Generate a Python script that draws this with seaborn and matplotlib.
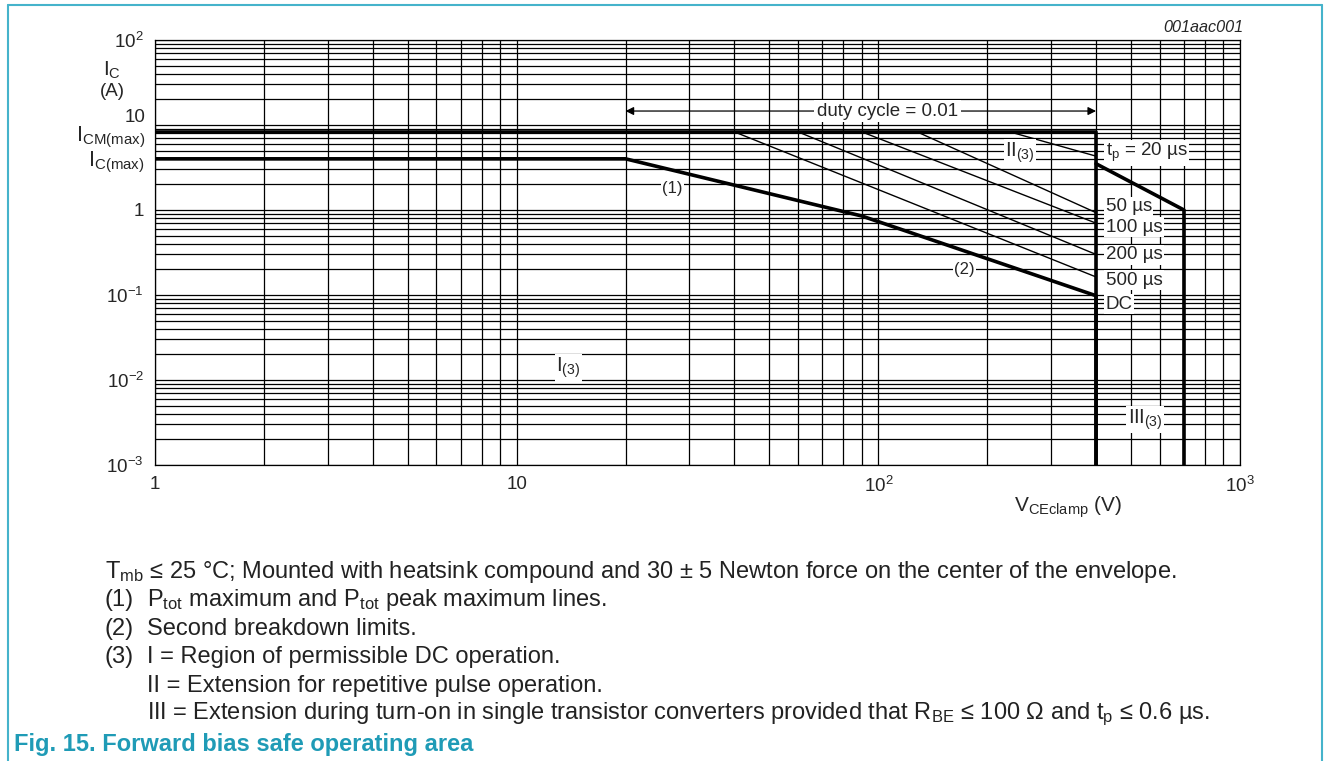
import matplotlib
matplotlib.use('Agg')
import matplotlib.pyplot as plt
import seaborn as sns
from matplotlib.ticker import LogLocator, NullFormatter, FixedLocator, FixedFormatter
from matplotlib.lines import Line2D

# data
dc_v = [1, 20, 90, 400, 400]
dc_i = [4, 4, 0.85, 0.098, 0.001]
icm_v = [1, 400]
icm_i = [8.3, 8.3]
ext_v = [400, 700, 700]
ext_i = [3.5, 1.0, 0.001]
pulse_labels = ['20 µs', '50 µs', '100 µs', '200 µs', '500 µs']
pulse_start_v = [231, 128, 90, 60, 40]
pulse_end_i = [4.3, 0.93, 0.70, 0.30, 0.163]
v_clamp = 400
x_ticks = [1, 10, 100, 1000]
x_ticklabels = ['1', '10', '$10^{2}$', '$10^{3}$']
y_ticks = [1e-3, 1e-2, 1e-1, 1, 10, 100]
y_ticklabels = ['$10^{-3}$', '$10^{-2}$', '$10^{-1}$', '1', '', '$10^{2}$']

sns.set_style('white')
plt.rcParams['font.family'] = ['Liberation Sans', 'DejaVu Sans']
plt.rcParams['mathtext.default'] = 'regular'

fig = plt.figure(figsize=(13.28, 7.61), dpi=100)
ax = fig.add_axes([155 / 1328, 1 - 465 / 761, 1085 / 1328, 425 / 761])
ax.set_xscale('log')
ax.set_yscale('log')
ax.set_xlim(1, 1000)
ax.set_ylim(1e-3, 100)

# grid
ax.xaxis.set_minor_locator(LogLocator(base=10, subs=range(2, 10)))
ax.yaxis.set_minor_locator(LogLocator(base=10, subs=range(2, 10)))
ax.xaxis.set_minor_formatter(NullFormatter())
ax.yaxis.set_minor_formatter(NullFormatter())
ax.grid(True, which='both', color='black', lw=0.9)
ax.set_axisbelow(True)
for s in ax.spines.values():
    s.set_color('black')
    s.set_linewidth(0.9)
ax.tick_params(which='both', length=0, labelsize=13.5)
ax.xaxis.set_major_locator(FixedLocator(x_ticks))
ax.xaxis.set_major_formatter(FixedFormatter(x_ticklabels))
ax.yaxis.set_major_locator(FixedLocator(y_ticks))
ax.yaxis.set_major_formatter(FixedFormatter(y_ticklabels))
ax.tick_params(axis='x', pad=8)
ax.tick_params(axis='y', pad=8)

thick = dict(color='black', lw=2.6, sort=False, estimator=None, ax=ax)
sns.lineplot(x=dc_v, y=dc_i, **thick)
sns.lineplot(x=icm_v + [v_clamp], y=icm_i + [0.001], **thick)
sns.lineplot(x=ext_v, y=ext_i, **thick)

for v0, i1 in zip(pulse_start_v, pulse_end_i):
    sns.lineplot(x=[v0, v_clamp], y=[icm_i[0], i1], color='black', lw=1.0,
                 sort=False, estimator=None, ax=ax)

box = dict(facecolor='white', edgecolor='none', pad=1.0)
fs = 13.5

# right-hand curve labels
lab_y = [4.7, 1.09, 0.63, 0.296, 0.15, 0.078]
lab_t = ['$t_p$ = ' + pulse_labels[0]] + pulse_labels[1:] + ['DC']
for t, y in zip(lab_t, lab_y):
    ax.text(425, y, t, fontsize=fs, ha='left', va='center', bbox=box)

ax.text(27, 1.8, '(1)', fontsize=12, ha='center', va='center', bbox=box)
ax.text(173, 0.2, '(2)', fontsize=12, ha='center', va='center', bbox=box)
ax.text(246, 4.7, 'II$_{(3)}$', fontsize=fs + 1, ha='center', va='center', bbox=box)
ax.text(13.9, 0.0138, 'I$_{(3)}$', fontsize=fs + 1, ha='center', va='center', bbox=box)
ax.text(546, 0.0034, 'III$_{(3)}$', fontsize=fs + 1, ha='center', va='center', bbox=box)

# duty cycle arrow
ax.annotate('', xy=(20, 14.6), xytext=(400, 14.6),
            arrowprops=dict(arrowstyle='<|-|>', color='black', lw=0.9,
                            mutation_scale=12, shrinkA=0, shrinkB=0))
ax.text(106, 14.6, 'duty cycle = 0.01', fontsize=fs, ha='center', va='center',
        bbox=dict(facecolor='white', edgecolor='none', pad=2.0))

# axis labels placed like the datasheet
fig.text(145 / 1328, 1 - 118 / 761, '10', fontsize=13.5, ha='right', va='center')
fig.text(145 / 1328, 1 - 137 / 761, 'I$_{CM(max)}$', fontsize=15.5, ha='right', va='center')
fig.text(145 / 1328, 1 - 162 / 761, 'I$_{C(max)}$', fontsize=15.5, ha='right', va='center')
fig.text(112 / 1328, 1 - 70 / 761, 'I$_{C}$', fontsize=15, ha='center', va='center')
fig.text(112 / 1328, 1 - 91 / 761, '(A)', fontsize=13.5, ha='center', va='center')
fig.text(1068 / 1328, 1 - 507 / 761, 'V$_{CEclamp}$ (V)', fontsize=15, ha='center', va='center')
fig.text(1243 / 1328, 1 - 28 / 761, '001aac001', fontsize=11.7, style='italic',
         ha='right', va='center')

# notes below the chart
nfs = 17
fig.text(105 / 1328, 1 - 572 / 761,
         'T$_{mb}$ ≤ 25 °C; Mounted with heatsink compound and 30 ± 5 Newton force on the center of the envelope.',
         fontsize=nfs, va='center', color='#222222')
notes = [('(1)', 'P$_{tot}$ maximum and P$_{tot}$ peak maximum lines.'),
         ('(2)', 'Second breakdown limits.'),
         ('(3)', 'I = Region of permissible DC operation.'),
         ('', 'II = Extension for repetitive pulse operation.'),
         ('', 'III = Extension during turn-on in single transistor converters provided that R$_{BE}$ ≤ 100 Ω and t$_{p}$ ≤ 0.6 µs.')]
for k, (num, txt) in enumerate(notes):
    y = 1 - (600 + 28.7 * k) / 761
    if num:
        fig.text(105 / 1328, y, num, fontsize=nfs, va='center', color='#222222')
    fig.text(147 / 1328, y, txt, fontsize=nfs, va='center', color='#222222')

fig.text(14 / 1328, 1 - 744 / 761, 'Fig. 15. Forward bias safe operating area',
         fontsize=17, fontweight='bold', color='#1f9bb6', va='center')

# teal frame
frame = '#45b3cb'
fig.add_artist(Line2D([8 / 1328, 8 / 1328], [0, 1 - 5 / 761], color=frame, lw=1.5))
fig.add_artist(Line2D([8 / 1328, 1322 / 1328], [1 - 5 / 761, 1 - 5 / 761], color=frame, lw=1.5))
fig.add_artist(Line2D([1322 / 1328, 1322 / 1328], [0, 1 - 5 / 761], color=frame, lw=1.5))

fig.savefig('out.png', dpi=100)
